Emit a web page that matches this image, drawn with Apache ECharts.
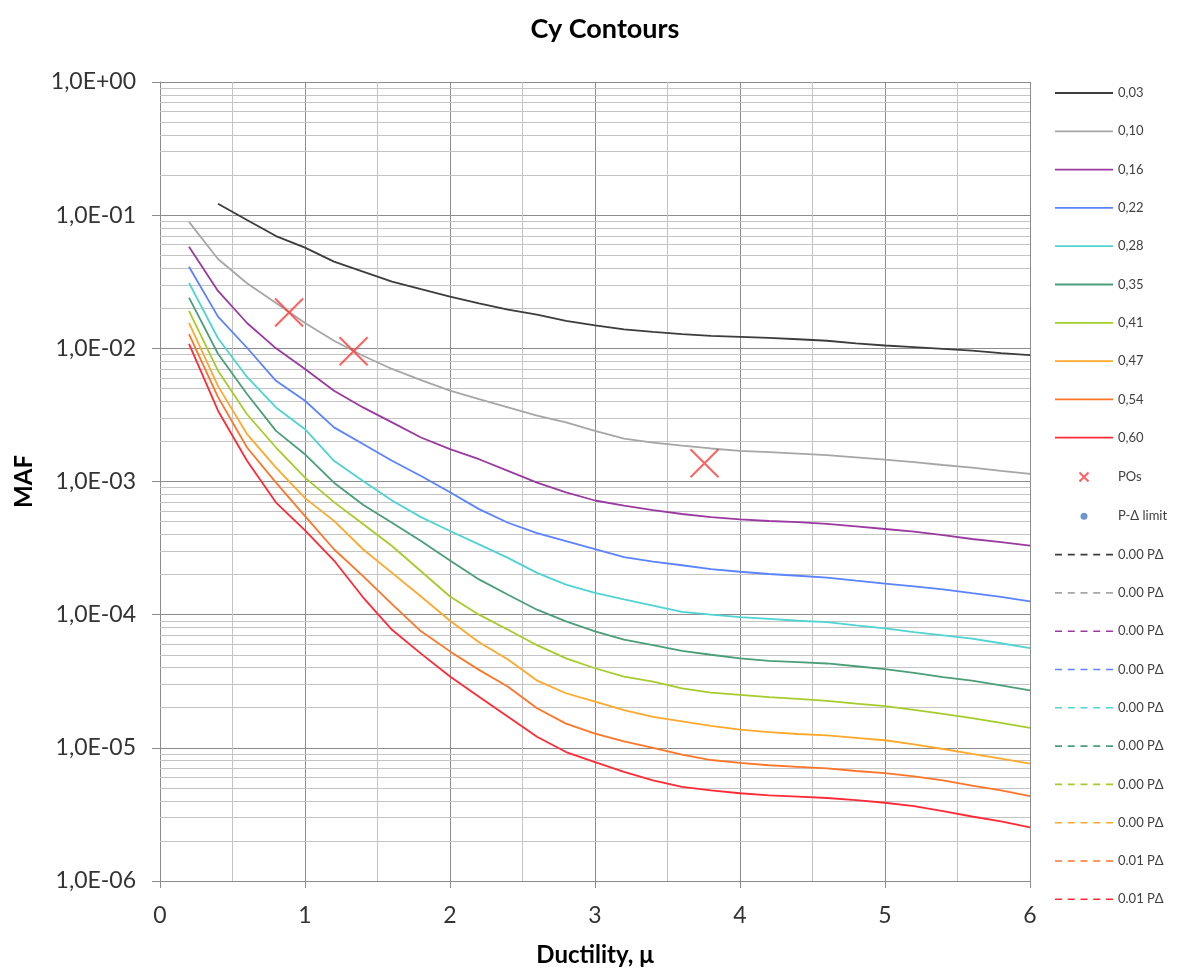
<!DOCTYPE html>
<html>
<head>
<meta charset="utf-8">
<title>Cy Contours</title>
<script src="https://cdn.jsdelivr.net/npm/echarts@6.0.0/dist/echarts.min.js"></script>
<style>
  html, body { margin: 0; padding: 0; background: #fff; }
  #chart { width: 1179px; height: 972px; }
</style>
</head>
<body>
<div id="chart"></div>
<script>
// Ductility values shared by every contour curve
const ductility = [0.2, 0.4, 0.6, 0.8, 1.0, 1.2, 1.4, 1.6, 1.8, 2.0,
                   2.2, 2.4, 2.6, 2.8, 3.0, 3.2, 3.4, 3.6, 3.8, 4.0,
                   4.2, 4.4, 4.6, 4.8, 5.0, 5.2, 5.4, 5.6, 5.8, 6.0];

// MAF along each Cy contour
const cy003 = [null, 0.122, 0.092, 0.0697, 0.057, 0.0448, 0.0377, 0.0317, 0.0278, 0.0245,
               0.0218, 0.0195, 0.0179, 0.0161, 0.0149, 0.0139, 0.0133, 0.0128, 0.0124, 0.0122,
               0.0120, 0.0117, 0.0114, 0.0109, 0.0105, 0.0102, 0.0099, 0.0096, 0.0092, 0.0089];
const cy010 = [0.089, 0.0469, 0.0308, 0.0219, 0.0155, 0.0114, 0.0088, 0.0070, 0.00578, 0.00481,
               0.00416, 0.0036, 0.00312, 0.00278, 0.0024, 0.0021, 0.00196, 0.00186, 0.00177, 0.00170,
               0.00166, 0.00162, 0.00158, 0.00152, 0.00146, 0.0014, 0.00133, 0.00127, 0.0012, 0.00114];
const cy016 = [0.058, 0.027, 0.0155, 0.0100, 0.0070, 0.0048, 0.0036, 0.00278, 0.00214, 0.00175,
               0.00147, 0.0012, 0.00098, 0.00083, 0.00072, 0.00066, 0.00061, 0.00057, 0.00054, 0.00052,
               0.000505, 0.000495, 0.00048, 0.00046, 0.00044, 0.00042, 0.000395, 0.00037, 0.00035, 0.00033];
const cy022 = [0.041, 0.0173, 0.0101, 0.0057, 0.00404, 0.00255, 0.00191, 0.00143, 0.0011, 0.00083,
               0.00062, 0.00049, 0.00041, 0.000357, 0.00031, 0.00027, 0.00025, 0.000235, 0.00022, 0.00021,
               0.000202, 0.000196, 0.00019, 0.00018, 0.000171, 0.000163, 0.000155, 0.000145, 0.000136, 0.000126];
const cy028 = [0.031, 0.0119, 0.0061, 0.0036, 0.00247, 0.00143, 0.00101, 0.00072, 0.00054, 0.000425,
               0.000337, 0.000267, 0.000206, 0.000168, 0.000146, 0.00013, 0.000117, 0.000105, 0.0001, 0.000096,
               0.000093, 0.00009, 0.000088, 0.000083, 0.000079, 0.000074, 0.00007, 0.000066, 0.000061, 0.000056];
const cy035 = [0.024, 0.0091, 0.00454, 0.0024, 0.0016, 0.00098, 0.00067, 0.00049, 0.000357, 0.000255,
               0.000184, 0.000141, 0.000109, 0.000089, 0.000075, 0.000065, 0.000059, 0.0000535, 0.00005, 0.000047,
               0.000045, 0.000044, 0.000043, 0.000041, 0.000039, 0.0000365, 0.000034, 0.000032, 0.0000295, 0.000027];
const cy041 = [0.0191, 0.0068, 0.0032, 0.0018, 0.00107, 0.0007, 0.00048, 0.000328, 0.000212, 0.000137,
               0.0001, 0.000077, 0.000059, 0.000047, 0.0000396, 0.0000343, 0.0000314, 0.000028, 0.000026, 0.000025,
               0.000024, 0.0000233, 0.0000225, 0.0000215, 0.0000206, 0.0000193, 0.000018, 0.0000167, 0.0000154, 0.0000141];
const cy047 = [0.0155, 0.0052, 0.00227, 0.00127, 0.00075, 0.000506, 0.00031, 0.000206, 0.000137, 0.00009,
               0.000062, 0.000046, 0.000032, 0.0000257, 0.0000222, 0.0000192, 0.0000171, 0.0000158, 0.0000146, 0.0000137,
               0.0000131, 0.0000127, 0.0000124, 0.0000119, 0.0000114, 0.0000106, 0.0000098, 0.000009, 0.0000083, 0.0000076];
const cy054 = [0.0128, 0.0043, 0.0018, 0.00098, 0.00055, 0.00031, 0.000195, 0.00012, 0.000075, 0.000053,
               0.0000385, 0.0000288, 0.0000198, 0.0000152, 0.0000128, 0.0000112, 0.00001, 0.0000089, 0.0000081, 0.0000077,
               0.0000074, 0.0000072, 0.000007, 0.0000067, 0.00000645, 0.0000061, 0.0000057, 0.0000052, 0.0000048, 0.00000433];
const cy060 = [0.0108, 0.0034, 0.00143, 0.000695, 0.00043, 0.000255, 0.000135, 0.000077, 0.000051, 0.0000343,
               0.0000242, 0.0000171, 0.0000121, 0.0000093, 0.0000078, 0.0000066, 0.0000057, 0.0000051, 0.0000048, 0.00000456,
               0.0000044, 0.0000043, 0.0000042, 0.00000405, 0.00000387, 0.00000365, 0.00000335, 0.00000305, 0.0000028, 0.00000253];

const contourLabels = ['0,03', '0,10', '0,16', '0,22', '0,28', '0,35', '0,41', '0,47', '0,54', '0,60'];
const contourValues = [cy003, cy010, cy016, cy022, cy028, cy035, cy041, cy047, cy054, cy060];

// Performance objectives: [ductility, MAF]
const poDuctility = [0.89, 1.335, 3.755];
const poMAF = [0.0186, 0.0095, 0.00137];

// P-Delta limit entries (shown in the legend only)
const pDeltaLabels = ['0.00 PΔ', '0.00 PΔ', '0.00 PΔ', '0.00 PΔ', '0.00 PΔ',
                      '0.00 PΔ', '0.00 PΔ', '0.00 PΔ', '0.01 PΔ', '0.01 PΔ'];

// Axis tick values
const xTicks = [0, 1, 2, 3, 4, 5, 6];
const yDecades = [-6, -5, -4, -3, -2, -1, 0];

// Line colours per contour
const palette = ['#3c3c3c', '#a6a6a6', '#9a3aa0', '#5b82ff', '#4fd3d3',
                 '#4a9e78', '#a5cc2a', '#ffa82a', '#ff7528', '#ff2a35'];

const FONT = 'Lato';
const GRID_MAJOR = '#8c8c8c';
const GRID_MINOR = '#c4c4c4';

// Legend glyphs: a solid bar, a dashed bar, a cross and a dot, all in a 58x14 box
const ICON_SOLID = 'path://M0,0M58,14M0,6.1H58V7.9H0Z';
const ICON_DASHED = 'path://M0,0M58,14M0,6.2H7V7.8H0ZM12.75,6.2H19.75V7.8H12.75ZM25.5,6.2H32.5V7.8H25.5Z' +
                    'M38.25,6.2H45.25V7.8H38.25ZM51,6.2H58V7.8H51Z';
const ICON_CROSS = 'path://M0,0M58,14M24.5,2.5L33.5,11.5M33.5,2.5L24.5,11.5';
const ICON_DOT = 'path://M0,0M58,14M25.5,7A3.5,3.5 0 1 0 32.5,7A3.5,3.5 0 1 0 25.5,7Z';

// Intermediate log gridlines (2..9 within each decade)
const minorY = [];
for (let d = yDecades[0]; d < yDecades[yDecades.length - 1]; d++) {
  for (let k = 2; k <= 9; k++) minorY.push(k * Math.pow(10, d));
}

function sciLabel(v) {
  const e = Math.round(Math.log10(v));
  const a = Math.abs(e);
  return '1,0E' + (e < 0 ? '-' : '+') + (a < 10 ? '0' : '') + a;
}

const labelMap = {};
const series = [];
const legendData = [];

// background minor gridlines
series.push({
  name: '__grid',
  type: 'line',
  data: [],
  silent: true,
  markLine: {
    silent: true,
    z: 1,
    precision: 12,
    symbol: ['none', 'none'],
    animation: false,
    label: { show: false },
    emphasis: { disabled: true },
    lineStyle: { color: GRID_MINOR, width: 1, type: 'solid' },
    data: minorY.map(v => ({ yAxis: v }))
  }
});

contourLabels.forEach((lab, i) => {
  const name = 'cy' + i;
  labelMap[name] = lab;
  legendData.push({ name: name, icon: ICON_SOLID, itemStyle: { color: palette[i], borderWidth: 0 } });
  series.push({
    name: name,
    type: 'line',
    symbol: 'none',
    z: 3,
    connectNulls: false,
    lineStyle: { color: palette[i], width: 1.8 },
    itemStyle: { color: palette[i] },
    data: ductility.map((x, j) => [x, contourValues[i][j]])
  });
});

labelMap['pos'] = 'POs';
legendData.push({ name: 'pos', icon: ICON_CROSS });
series.push({
  name: 'pos',
  type: 'scatter',
  z: 4,
  symbol: 'path://M0,0L10,10M10,0L0,10',
  symbolSize: 28,
  itemStyle: { color: 'rgba(0,0,0,0)', borderColor: '#ff3a3a', borderWidth: 2 },
  data: poDuctility.map((x, j) => [x, poMAF[j]])
});

labelMap['pdl'] = 'P-Δ limit';
legendData.push({ name: 'pdl', icon: ICON_DOT });
series.push({
  name: 'pdl',
  type: 'scatter',
  symbol: 'circle',
  symbolSize: 7,
  itemStyle: { color: '#4a7ebb' },
  data: []
});

pDeltaLabels.forEach((lab, i) => {
  const name = 'pd' + i;
  labelMap[name] = lab;
  legendData.push({ name: name, icon: ICON_DASHED, itemStyle: { color: palette[i], borderWidth: 0 } });
  series.push({
    name: name,
    type: 'line',
    symbol: 'none',
    lineStyle: { color: palette[i], width: 1.5, type: [6, 6] },
    itemStyle: { color: palette[i] },
    data: []
  });
});

const chart = echarts.init(document.getElementById('chart'), null, { renderer: 'canvas' });
chart.setOption({
  animation: false,
  backgroundColor: '#ffffff',
  title: {
    text: 'Cy Contours',
    left: 600,
    top: 11,
    textAlign: 'center',
    textStyle: { fontFamily: FONT, fontWeight: 'bold', fontSize: 27, color: '#000' }
  },
  legend: {
    orient: 'vertical',
    left: 1054,
    top: 86,
    padding: 0,
    itemWidth: 58,
    itemHeight: 14,
    itemGap: 24.3,
    selectedMode: false,
    data: legendData,
    formatter: n => labelMap[n],
    textStyle: { fontFamily: FONT, fontSize: 13, color: '#404040' }
  },
  grid: { left: 160, right: 149, top: 82, bottom: 91, containLabel: false },
  xAxis: {
    type: 'value',
    min: xTicks[0],
    max: xTicks[xTicks.length - 1],
    interval: 1,
    name: 'Ductility, μ',
    nameLocation: 'middle',
    nameGap: 62,
    nameTextStyle: { fontFamily: FONT, fontWeight: 'bold', fontSize: 24, color: '#000' },
    axisLine: { show: true, onZero: false, lineStyle: { color: GRID_MAJOR, width: 1 } },
    axisTick: { show: true, inside: false, length: 7, lineStyle: { color: GRID_MAJOR } },
    axisLabel: { fontFamily: FONT, fontSize: 23, color: '#333', margin: 23 },
    splitLine: { show: true, lineStyle: { color: GRID_MAJOR, width: 1 } },
    minorTick: { show: false, splitNumber: 2 },
    minorSplitLine: { show: true, lineStyle: { color: GRID_MINOR, width: 1 } }
  },
  yAxis: {
    type: 'log',
    logBase: 10,
    min: Math.pow(10, yDecades[0]),
    max: Math.pow(10, yDecades[yDecades.length - 1]),
    splitNumber: 6,
    name: 'MAF',
    nameLocation: 'middle',
    nameGap: 124,
    nameRotate: 90,
    nameTextStyle: { fontFamily: FONT, fontWeight: 'bold', fontSize: 24, color: '#000' },
    axisLine: { show: true, lineStyle: { color: GRID_MAJOR, width: 1 } },
    axisTick: { show: true, inside: false, length: 8, lineStyle: { color: GRID_MAJOR } },
    axisLabel: { fontFamily: FONT, fontSize: 23, color: '#333', margin: 24, formatter: sciLabel },
    splitLine: { show: true, lineStyle: { color: GRID_MAJOR, width: 1 } }
  },
  series: series
});
</script>
</body>
</html>
